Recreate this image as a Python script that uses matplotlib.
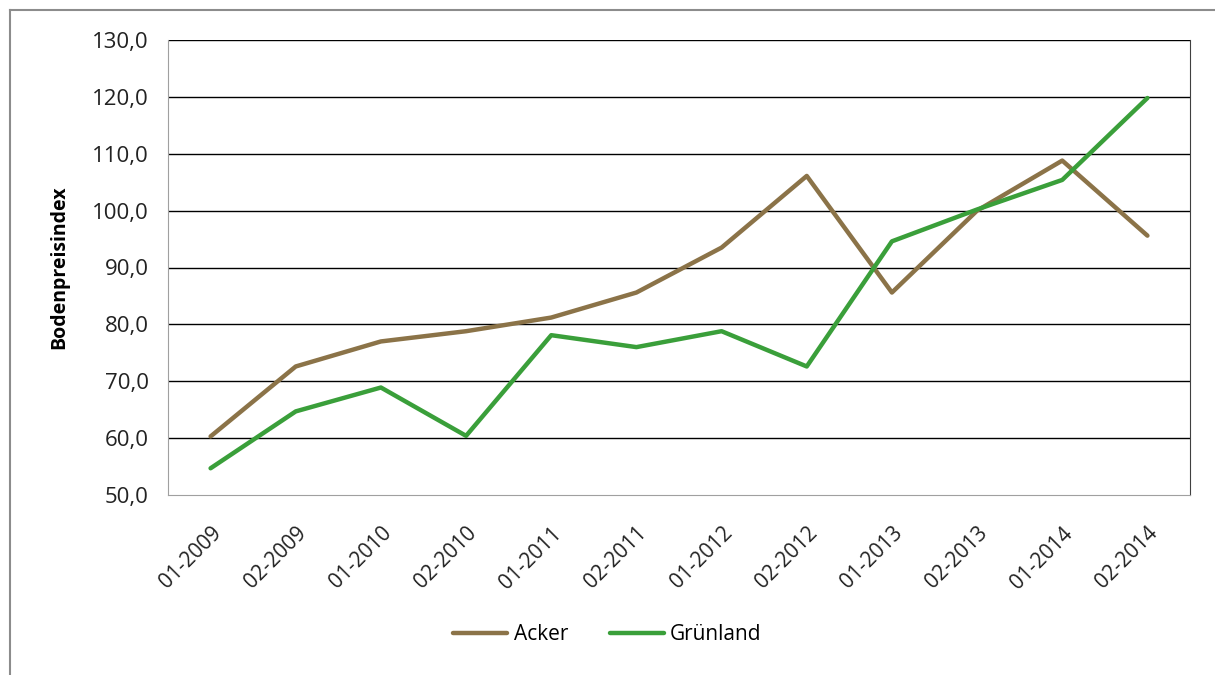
import matplotlib.pyplot as plt
from matplotlib.lines import Line2D

plt.rcParams['font.family'] = ['Open Sans', 'DejaVu Sans']

perioden = ['01-2009', '02-2009', '01-2010', '02-2010', '01-2011', '02-2011',
            '01-2012', '02-2012', '01-2013', '02-2013', '01-2014', '02-2014']
acker = [60.3, 72.6, 77.0, 78.8, 81.2, 85.6, 93.5, 106.1, 85.6, 100.0, 108.8, 95.6]
gruenland = [54.7, 64.7, 68.9, 60.4, 78.1, 76.0, 78.8, 72.6, 94.6, 100.2, 105.4, 119.8]
yticks = [50, 60, 70, 80, 90, 100, 110, 120, 130]

fig = plt.figure(figsize=(12.15, 6.75), dpi=100)
ax = fig.add_axes([168 / 1215, 1 - 495 / 675, 1022 / 1215, 455 / 675])

# Rahmen um das Diagramm
fig.add_artist(Line2D([10 / 1215, 10 / 1215], [0, 1 - 10 / 675], color='#8c8c8c', lw=1.5))
fig.add_artist(Line2D([10 / 1215, 1], [1 - 10 / 675, 1 - 10 / 675], color='#8c8c8c', lw=1.5))

x = range(len(perioden))
ax.plot(x, acker, color='#8B7348', lw=3.2, label='Acker', solid_capstyle='round')
ax.plot(x, gruenland, color='#3A9F3A', lw=3.2, label='Grünland', solid_capstyle='round')

ax.set_xlim(-0.5, len(perioden) - 0.5)
ax.set_ylim(50, 130)
ax.set_yticks(yticks)
ax.set_yticklabels([f'{v:.1f}'.replace('.', ',') for v in yticks], fontsize=16, color='#222222')
ax.set_xticks(list(x))
ax.set_xticklabels(perioden, rotation=45, ha='right', rotation_mode='anchor', fontsize=15,
                   color='#222222')
ax.tick_params(length=0)
ax.tick_params(axis='y', pad=14)
ax.tick_params(axis='x', pad=20)
ax.set_ylabel('Bodenpreisindex', fontsize=14, fontweight='bold', labelpad=16)

for v in yticks[1:]:
    ax.axhline(v, color='black', lw=1, zorder=0)
for s in ['left', 'bottom']:
    ax.spines[s].set_color('#a0a0a0')
ax.spines['right'].set_color('#404040')
ax.spines['top'].set_visible(False)

fig.legend(loc='center', bbox_to_anchor=(0.5, 1 - 635 / 675), ncol=2, frameon=False,
           fontsize=15, handlelength=2.6, columnspacing=2.0, handletextpad=0.3)

fig.savefig('out.png', dpi=100)
